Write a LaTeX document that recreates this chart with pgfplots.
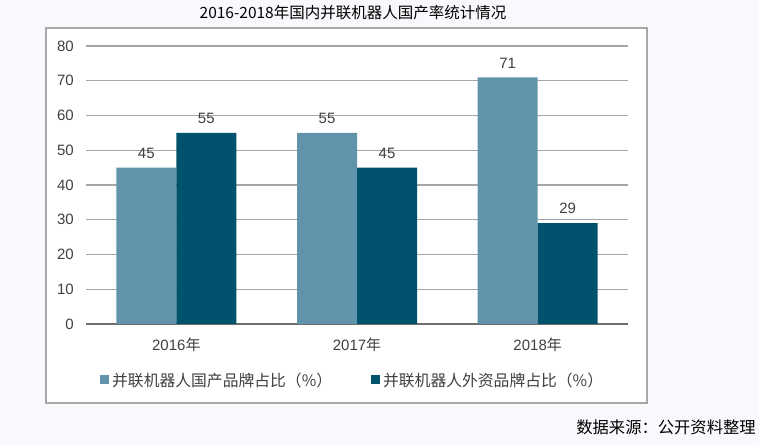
\documentclass[border=0pt]{standalone}
\usepackage{pgfplots}
\pgfplotsset{compat=1.18}
\usetikzlibrary{backgrounds}
\usepackage{fontspec}
\setmainfont{Liberation Sans}
\newfontfamily\cjk{Noto Sans CJK SC}
\definecolor{cBg}{HTML}{F8F9FC}
\definecolor{cBox}{HTML}{A8A8A8}
\definecolor{cGrid}{HTML}{A6A6A6}
\definecolor{cAxis}{HTML}{6E6E6E}
\definecolor{cText}{HTML}{404040}
\definecolor{cLight}{HTML}{6194AA}
\definecolor{cDark}{HTML}{01536D}

\begin{document}
\begin{tikzpicture}
\begin{axis}[at={(0,0)},anchor=south west,
    scale only axis,width=542bp,height=278bp,
    xmin=-0.5,xmax=2.5,ymin=0,ymax=80,
    ybar=0pt,bar width=60bp,
    xtick={0,1,2},xticklabels={2016{\cjk 年},2017{\cjk 年},2018{\cjk 年}},
    ytick={0,10,...,80},
    axis x line*=bottom,axis y line*=left,
    y axis line style={draw=none},
    x axis line style={draw=cAxis,line width=1.3bp,-},
    ymajorgrids,grid style={draw=cGrid,line width=1.2bp},
    major tick length=0pt,
    /pgf/number format/assume math mode=true,
    ticklabel style={font=\fontsize{15bp}{18bp}\selectfont,text=cText},
    yticklabel style={anchor=east,inner sep=0pt,xshift=-12bp},
    xticklabel style={anchor=base,inner sep=0pt,yshift=-26.5bp},
    nodes near coords,
    nodes near coords style={font=\fontsize{15bp}{18bp}\selectfont,text=cText,anchor=south,inner sep=0pt,yshift=9bp},
    legend columns=2,
    legend style={draw=none,fill=none,at={(0.0258,-0.2014)},anchor=west,inner sep=0pt,
        column sep=3bp,font=\cjk\fontsize{15.8bp}{18bp}\selectfont,text=cText,
        nodes={inner sep=0pt}},
    /tikz/every even column/.append style={column sep=39bp},
    legend image code/.code={\draw[#1,draw=none] (0bp,-4.5bp) rectangle (9bp,4.5bp);},
  ]
\addplot[fill=cLight,draw=none] coordinates {(0,45) (1,55) (2,71)};
\addplot[fill=cDark,draw=none] coordinates {(0,55) (1,45) (2,29)};
\legend{并联机器人国产品牌占比（\%）,并联机器人外资品牌占比（\%）}
\end{axis}
% rest of the picture in pixel units, y from the bottom; axis corner sits at (86,121)
\begin{scope}[x=1bp,y=1bp,shift={(-86bp,-121bp)}]
\begin{scope}[on background layer]
\fill[cBg] (0,0) rectangle (759,445);
\draw[cBox,fill=white,line width=1.4bp] (46,42) rectangle (647,417);
\end{scope}
\node[font=\cjk\fontsize{15.5bp}{18bp}\selectfont,text=black] at (353,432) {2016-2018年国内并联机器人国产率统计情况};
\node[font=\cjk\fontsize{16.3bp}{20bp}\selectfont,text=black] at (666,18) {数据来源：公开资料整理};
\pgfresetboundingbox
\useasboundingbox (0,0) rectangle (759,445);
\end{scope}
\end{tikzpicture}
\end{document}
